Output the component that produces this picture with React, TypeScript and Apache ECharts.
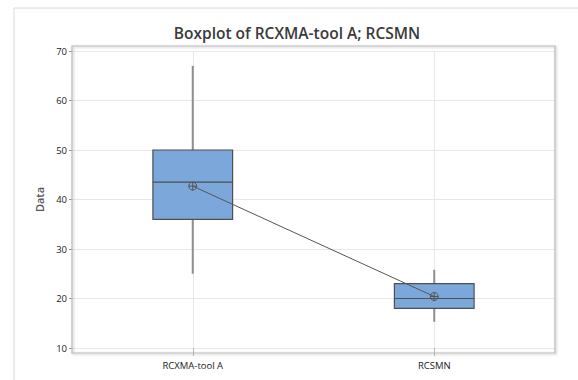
import React, { useEffect, useRef } from "react";
import * as echarts from "echarts";

const categories = ["RCXMA-tool A", "RCSMN"];
// [min whisker, Q1, median, Q3, max whisker]
const boxStats = [
  [25, 36, 43.5, 50, 67],
  [15.3, 18, 20, 23, 25.8],
];
const means = [42.7, 20.4];
const yTicks = { min: 10, max: 70, interval: 10 };
const titleText = "Boxplot of RCXMA-tool A; RCSMN";
const yName = "Data";

export default function App() {
  const ref = useRef<HTMLDivElement>(null);
  useEffect(() => {
    document.body.style.margin = "0";
    const chart = echarts.init(ref.current!, null, { renderer: "svg" });
    const font = "'Open Sans', 'Noto Sans', sans-serif";
    const boxData = boxStats.map((s, i) => [i, ...s]);
    const meanData = means.map((m, i) => [i, m]);
    chart.setOption({
      animation: false,
      backgroundColor: "#fff",
      graphic: [
        { type: "line", shape: { x1: 14, y1: 8, x2: 14, y2: 380 }, style: { stroke: "#d8d8d8", lineWidth: 1 }, z: -1 },
        { type: "line", shape: { x1: 14, y1: 8, x2: 578, y2: 8 }, style: { stroke: "#d8d8d8", lineWidth: 1 }, z: -1 },
        {
          type: "text",
          x: 297,
          y: 33,
          style: {
            text: titleText,
            fontFamily: font,
            fontSize: 15.5,
            fontWeight: 600,
            fill: "#3a3a3a",
            align: "center",
            verticalAlign: "middle",
          },
          z: 10,
        },
        {
          type: "rect",
          shape: { x: 72, y: 46, width: 483, height: 307 },
          style: {
            fill: "none",
            stroke: "#b8b8b8",
            lineWidth: 1.2,
            shadowBlur: 2,
            shadowColor: "rgba(0,0,0,0.25)",
            shadowOffsetX: 1,
            shadowOffsetY: 1,
          },
          z: 10,
        },
      ],
      grid: { left: 72, right: 23, top: 51, bottom: 32 },
      xAxis: {
        type: "category",
        data: categories,
        axisLine: { show: false },
        axisTick: { show: true, alignWithLabel: true, length: 8, lineStyle: { color: "#bbb" } },
        axisLabel: { fontFamily: font, fontSize: 9.5, color: "#222", margin: 12 },
        splitLine: { show: false },
      },
      yAxis: {
        type: "value",
        min: yTicks.min,
        max: yTicks.max,
        interval: yTicks.interval,
        name: yName,
        nameLocation: "middle",
        nameGap: 25,
        nameTextStyle: { fontFamily: font, fontSize: 11, fontWeight: 600, color: "#555" },
        axisLine: { show: false },
        axisTick: { show: true, length: 3, lineStyle: { color: "#999" } },
        axisLabel: { fontFamily: font, fontSize: 9.5, color: "#222", margin: 5 },
        splitLine: { show: true, lineStyle: { color: "#e8e8e8", width: 1 } },
      },
      series: [
        {
          type: "custom",
          data: boxData,
          encode: { x: 0, y: [1, 2, 3, 4, 5] },
          z: 2,
          markLine: {
            silent: true,
            symbol: "none",
            label: { show: false },
            lineStyle: { color: "#e8e8e8", width: 1, type: "solid" },
            data: categories.map((c) => ({ xAxis: c })),
            z: 0,
          },
          renderItem: (params: any, api: any) => {
            const i = api.value(0);
            const pMin = api.coord([i, api.value(1)]);
            const pQ1 = api.coord([i, api.value(2)]);
            const pMed = api.coord([i, api.value(3)]);
            const pQ3 = api.coord([i, api.value(4)]);
            const pMax = api.coord([i, api.value(5)]);
            const w = api.size([1, 0])[0] * 0.33;
            const x = pQ1[0];
            return {
              type: "group",
              children: [
                { type: "line", shape: { x1: x, y1: pMax[1], x2: x, y2: pQ3[1] }, style: { stroke: "#8e8e8e", lineWidth: 2 } },
                { type: "line", shape: { x1: x, y1: pQ1[1], x2: x, y2: pMin[1] }, style: { stroke: "#8e8e8e", lineWidth: 2 } },
                {
                  type: "rect",
                  shape: { x: x - w / 2, y: pQ3[1], width: w, height: pQ1[1] - pQ3[1] },
                  style: { fill: "#7ba7db", stroke: "#4f4f4f", lineWidth: 1.2 },
                },
                {
                  type: "line",
                  shape: { x1: x - w / 2, y1: pMed[1], x2: x + w / 2, y2: pMed[1] },
                  style: { stroke: "#4f4f4f", lineWidth: 1.2 },
                },
              ],
            };
          },
        },
        {
          type: "line",
          data: meanData,
          symbol: "none",
          lineStyle: { color: "#555", width: 1 },
          z: 3,
        },
        {
          type: "custom",
          data: meanData,
          z: 4,
          renderItem: (params: any, api: any) => {
            const p = api.coord([api.value(0), api.value(1)]);
            const r = 4;
            const st = { stroke: "#555", lineWidth: 1, fill: "none" };
            return {
              type: "group",
              children: [
                { type: "circle", shape: { cx: p[0], cy: p[1], r }, style: st },
                { type: "line", shape: { x1: p[0] - r, y1: p[1], x2: p[0] + r, y2: p[1] }, style: st },
                { type: "line", shape: { x1: p[0], y1: p[1] - r, x2: p[0], y2: p[1] + r }, style: st },
              ],
            };
          },
        },
      ],
    });
    return () => chart.dispose();
  }, []);
  return <div ref={ref} style={{ width: 578, height: 380 }} />;
}
